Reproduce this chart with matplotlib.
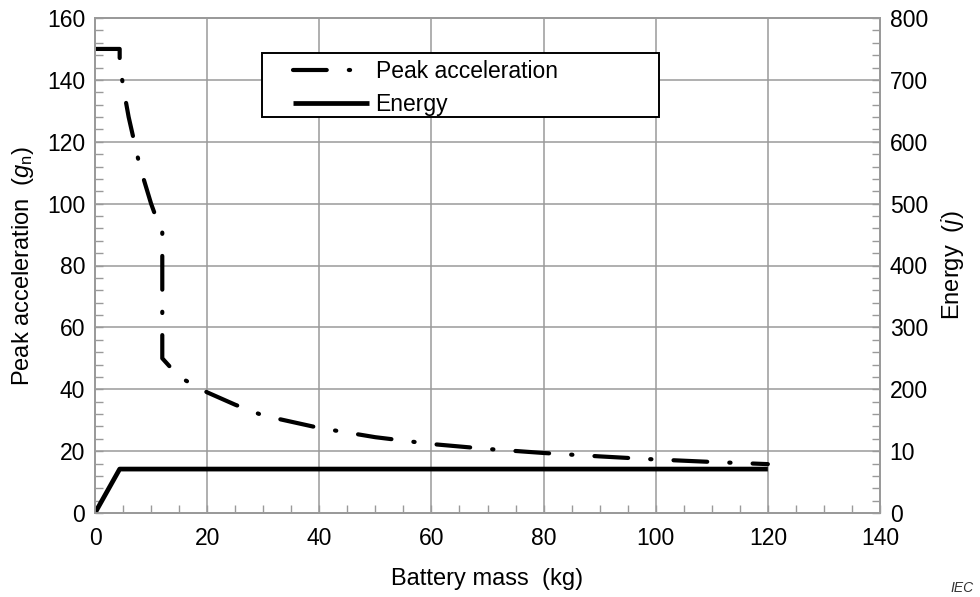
import matplotlib
matplotlib.use("Agg")
import matplotlib.pyplot as plt
from matplotlib.patches import Rectangle
from matplotlib.ticker import MultipleLocator

plt.rcParams['font.family'] = ['Liberation Sans', 'DejaVu Sans']
plt.rcParams['mathtext.fontset'] = 'custom'
plt.rcParams['mathtext.rm'] = 'Liberation Sans'
plt.rcParams['mathtext.it'] = 'Liberation Sans:italic'

# Peak acceleration (gn) vs battery mass (kg)
mass_peak = [0, 4.4, 4.4, 5, 6, 7, 8, 9, 10, 11, 12, 12, 14, 16, 20, 25,
             30, 40, 50, 60, 70, 80, 90, 100, 110, 120]
peak_acc = [150, 150, 146, 138, 128, 120, 112, 106, 100, 95, 91, 50, 46, 43,
            39, 35, 31.5, 27.5, 24.5, 22.3, 20.7, 19.4, 18.3, 17.3, 16.5, 15.8]

# Energy (J) vs battery mass (kg)
mass_energy = [0, 4.4, 120]
energy = [0, 71, 71]

right_ticks = [0, 100, 200, 300, 400, 500, 600, 700, 800]
right_labels = ['0', '10', '200', '300', '400', '500', '600', '700', '800']

grey = '#9a9a9a'
fs = 16.5

fig = plt.figure(figsize=(9.8, 5.97), dpi=100)
ax = fig.add_axes([95/980, 1 - 513/597, 785/980, 495/597])
ax2 = ax.twinx()

dash = (0, (8.1, 5.3, 0.3, 5.3))
l1, = ax.plot(mass_peak, peak_acc, color='black', lw=3, linestyle=dash,
              dash_capstyle='round', label='Peak acceleration')
l2, = ax2.plot(mass_energy, energy, color='black', lw=3.4,
               solid_capstyle='butt', label='Energy')

ax.set_xlim(0, 140)
ax.set_ylim(0, 160)
ax2.set_ylim(0, 800)
ax.xaxis.set_major_locator(MultipleLocator(20))
ax.xaxis.set_minor_locator(MultipleLocator(5))
ax.yaxis.set_major_locator(MultipleLocator(20))
ax.yaxis.set_minor_locator(MultipleLocator(4))
ax2.set_yticks(right_ticks, labels=right_labels)
ax2.yaxis.set_minor_locator(MultipleLocator(20))

ax.set_axisbelow(True)
ax.grid(True, which='major', color=grey, lw=1.1)

for a in (ax, ax2):
    for s in a.spines.values():
        s.set_color(grey)
        s.set_linewidth(1.3)
ax.tick_params(which='both', direction='in', color=grey, labelsize=fs,
               right=False, top=False, length=6, width=1, pad=7)
ax.tick_params(axis='x', pad=10)
ax2.tick_params(which='both', direction='in', color=grey, labelsize=fs,
                length=6, width=1, pad=7)

ax.set_xlabel('Battery mass  (kg)', fontsize=17, labelpad=13)
ax.set_ylabel(r'Peak acceleration  ($g_{\rm n}$)', fontsize=17, labelpad=8)
ax2.set_ylabel(r'Energy  ($j$)', fontsize=17, labelpad=8)

# legend box
box = Rectangle((262/980, 1 - 117/597), 397/980, 64/597,
                transform=fig.transFigure, facecolor='white',
                edgecolor='black', lw=1.4, zorder=5, clip_on=False)
ax2.add_patch(box)
leg = ax2.legend([l1, l2], ['Peak acceleration', 'Energy'], loc='upper left',
                 bbox_to_anchor=(293/980, 1 - 60/597),
                 bbox_transform=fig.transFigure, frameon=False, fontsize=fs,
                 borderpad=0, borderaxespad=0, handlelength=3.3,
                 handletextpad=0.3, labelspacing=0.45)
leg.set_zorder(6)

fig.text(950/980, 2/597, 'IEC', fontsize=10, style='italic', va='bottom',
         color='#333333')

fig.savefig('out.png', dpi=100)
